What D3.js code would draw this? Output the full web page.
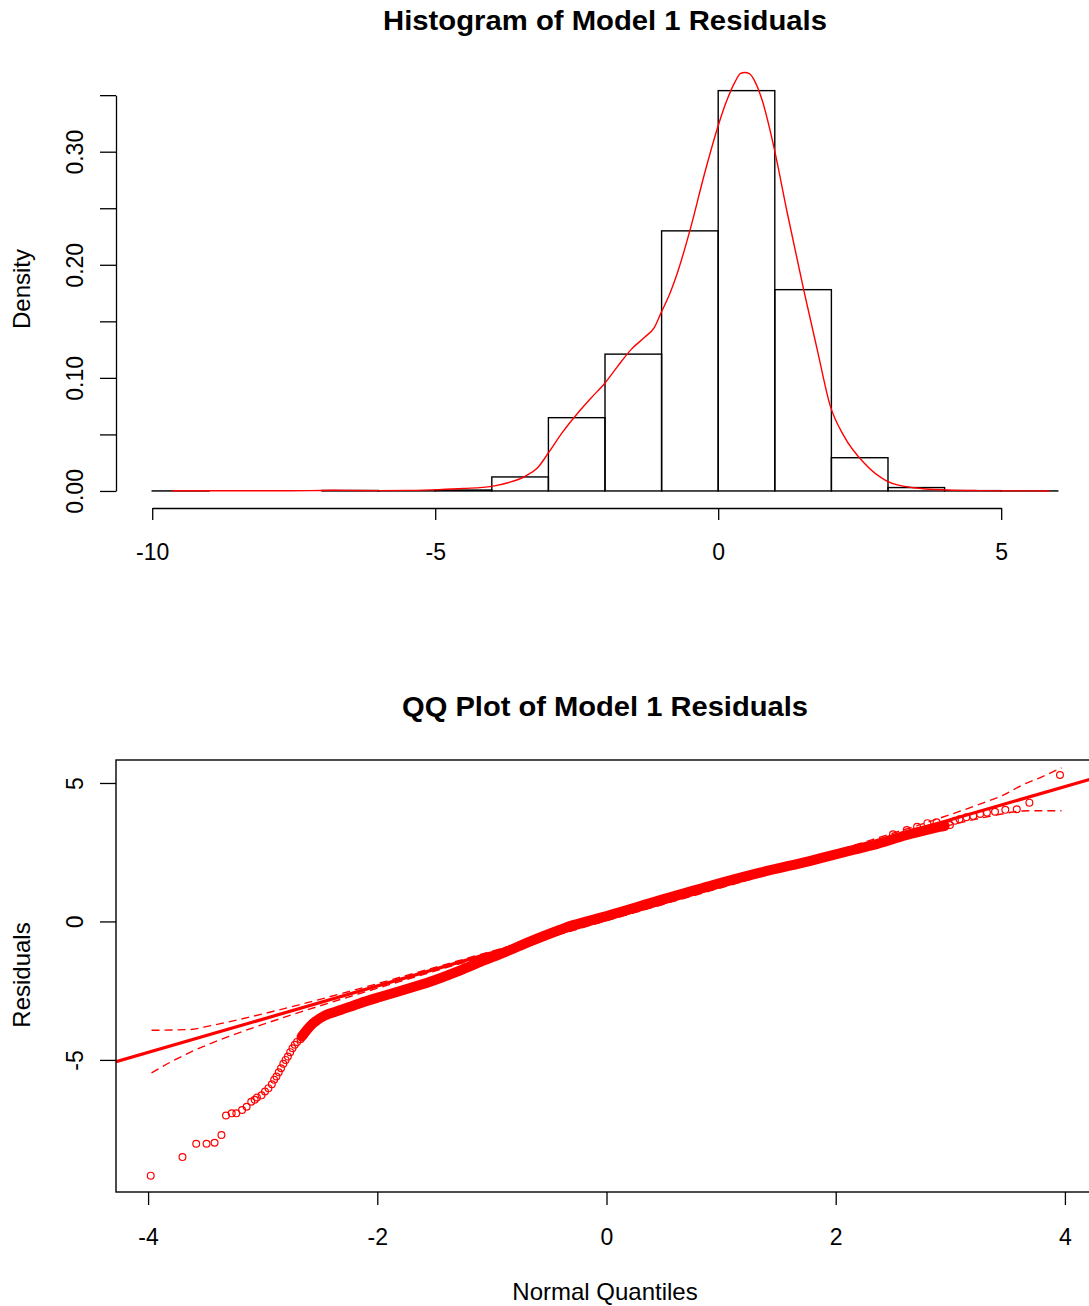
<!DOCTYPE html>
<html>
<head>
<meta charset="utf-8">
<script src="https://cdn.jsdelivr.net/npm/d3@7"></script>
<style>
  body { margin: 0; background: #fff; }
  svg { display: block; }
  text { font-family: "Liberation Sans", Arial, sans-serif; fill: #000; }
</style>
</head>
<body>
<svg id="chart" width="1089" height="1306"></svg>
<script>
// ---------- Histogram of residuals ----------
const histBreaks = [-10, -9, -8, -7, -6, -5, -4, -3, -2, -1, 0, 1, 2, 3, 4, 5, 6];
const histDensity = [0.00005, 0, 0, 0.0004, 0.0001, 0.0008, 0.0124, 0.0648, 0.121, 0.230, 0.354, 0.178, 0.0294, 0.003, 0.0003, 0.00005];

// kernel density estimate drawn over the bars
const densX = [-9.65, -9.0, -8.0, -7.2, -6.8, -6.4, -6.0, -5.5, -4.94, -4.5, -4.0, -3.7, -3.41, -3.2, -3.0,
  -2.75, -2.48, -2.25, -2.0, -1.78, -1.54, -1.3, -1.13, -1.01, -0.85, -0.72, -0.48, -0.25, 0.0, 0.15, 0.3,
  0.39, 0.47, 0.55, 0.65, 0.78, 0.98, 1.22, 1.51, 1.75, 1.98, 2.22, 2.57, 2.98, 3.45, 4.04, 4.6, 5.2, 5.85];
const densY = [0.0002, 0.0002, 0.0002, 0.0003, 0.0006, 0.0004, 0.0003, 0.0005, 0.0012, 0.0022, 0.0041, 0.0075, 0.0130, 0.020, 0.0336,
  0.052, 0.069, 0.082, 0.0955, 0.110, 0.125, 0.136, 0.1445, 0.1575, 0.175, 0.193, 0.234, 0.279, 0.323, 0.345, 0.362,
  0.369, 0.370, 0.369, 0.362, 0.345, 0.305, 0.246, 0.178, 0.125, 0.0752, 0.0487, 0.0251, 0.0088, 0.0029, 0.0009, 0.0003, 0.0001, 0.0];

const histYTicks = [0, 0.05, 0.10, 0.15, 0.20, 0.25, 0.30, 0.35];
const histYLabels = ["0.00", "", "0.10", "", "0.20", "", "0.30", ""];
const histXTicks = [-10, -5, 0, 5];

// ---------- Normal QQ plot of residuals ----------
// isolated points in the lower tail (normal quantile, residual)
const tailLowQ = [-3.977, -3.70, -3.58, -3.49, -3.42, -3.36, -3.32, -3.27, -3.23, -3.18, -3.14, -3.10, -3.07, -3.05,
  -3.01, -2.98, -2.95, -2.92, -2.90, -2.88, -2.86, -2.84, -2.82, -2.80, -2.78, -2.76, -2.74, -2.72, -2.70, -2.67, -2.64, -2.62];
const tailLowR = [-9.18, -8.51, -8.03, -8.03, -7.99, -7.71, -7.01, -6.93, -6.93, -6.81, -6.69, -6.51, -6.44, -6.36,
  -6.28, -6.14, -6.02, -5.88, -5.72, -5.60, -5.45, -5.30, -5.14, -5.00, -4.88, -4.72, -4.58, -4.45, -4.35, -4.25, -4.10, -3.98];
// isolated points in the upper tail
const tailHighQ = [3.957, 3.69, 3.58, 3.48, 3.39, 3.32, 3.26, 3.20, 3.14, 3.08, 3.04, 2.997, 2.94, 2.88, 2.80, 2.71, 2.62, 2.50];
const tailHighR = [5.29, 4.29, 4.05, 4.03, 3.96, 3.93, 3.88, 3.81, 3.76, 3.69, 3.64, 3.48, 3.40, 3.58, 3.55, 3.42, 3.30, 3.15];
// the densely packed body of the sample, traced along its centre
const bodyQ = [-2.66, -2.56, -2.46, -2.32, -2.15, -1.97, -1.75, -1.54, -1.32, -1.10, -0.88, -0.67, -0.41, -0.29,
  0.03, 0.47, 0.90, 1.34, 1.78, 2.15, 2.33, 2.62, 2.85, 2.95];
const bodyR = [-4.16, -3.68, -3.40, -3.20, -2.95, -2.72, -2.45, -2.18, -1.84, -1.46, -1.10, -0.73, -0.31, -0.13,
  0.23, 0.77, 1.28, 1.76, 2.19, 2.58, 2.76, 3.12, 3.36, 3.45];
// reference line through the quartiles
const qqIntercept = 0.07;
const qqSlope = 1.2;
// pointwise confidence envelope
const envQ = [-3.97, -3.8, -3.63, -3.45, -3.3, -3.0, -2.7, -2.3, -1.8, -1.0, 0, 1.0, 1.8, 2.3, 2.7, 3.0, 3.3, 3.45, 3.63, 3.8, 3.97];
const envUpper = [-3.93, -3.92, -3.90, -3.76, -3.63, -3.34, -3.03, -2.59, -2.015, -1.075, 0.115, 1.325, 2.305, 2.93, 3.45, 3.86, 4.30, 4.54, 4.93, 5.22, 5.55];
const envLower = [-5.47, -5.07, -4.72, -4.40, -4.16, -3.72, -3.31, -2.79, -2.165, -1.185, 0.025, 1.215, 2.155, 2.73, 3.17, 3.48, 3.76, 3.88, 3.99, 4.00, 4.00];

const qqXTicks = [-4, -2, 0, 2, 4];
const qqYTicks = [-5, 0, 5];

const RED = "#ff0000";
const svg = d3.select("#chart");
const FS_TICK = 23, FS_LAB = 24, FS_TITLE = 28;
const fmtInt = d => String(d);   // plain hyphen-minus for negatives

// ================= Histogram panel =================
const hx = d3.scaleLinear().domain([-10.64, 6.64]).range([116, 1094]);
const hy = d3.scaleLinear().domain([-0.0148, 0.3848]).range([507.7, 55.8]);

svg.append("text").attr("x", 605).attr("y", 30).attr("text-anchor", "middle")
  .attr("font-weight", "bold").attr("font-size", FS_TITLE)
  .attr("textLength", 444).attr("lengthAdjust", "spacingAndGlyphs")
  .text("Histogram of Model 1 Residuals");

const bins = histDensity.map((d, i) => ({ x0: histBreaks[i], x1: histBreaks[i + 1], d }));
svg.append("g").selectAll("rect").data(bins).join("rect")
  .attr("x", b => hx(b.x0)).attr("width", b => hx(b.x1) - hx(b.x0))
  .attr("y", b => hy(b.d)).attr("height", b => hy(0) - hy(b.d))
  .attr("fill", "none").attr("stroke", "#000").attr("stroke-width", 1.4);

const dens = densX.map((x, i) => [x, densY[i]]);
svg.append("path").datum(dens)
  .attr("d", d3.line().x(d => hx(d[0])).y(d => hy(d[1])).curve(d3.curveMonotoneX))
  .attr("fill", "none").attr("stroke", RED).attr("stroke-width", 1.4);

// y axis (line spans first to last tick)
const hyAxisScale = hy.copy().domain([0, 0.35]).range([hy(0), hy(0.35)]);
const gHY = svg.append("g").attr("transform", "translate(116,0)")
  .call(d3.axisLeft(hyAxisScale).tickValues(histYTicks).tickSize(16).tickSizeOuter(0)
    .tickFormat((d, i) => histYLabels[i]));
gHY.selectAll("path,line").attr("stroke", "#000").attr("stroke-width", 1.3);
gHY.selectAll("text").attr("font-size", FS_TICK).attr("font-family", "Liberation Sans, Arial, sans-serif")
  .attr("text-anchor", "middle").attr("x", null).attr("dy", null)
  .attr("transform", "translate(-41,0) rotate(-90)").attr("dy", "0.35em");

svg.append("text").attr("transform", "translate(22,289) rotate(-90)").attr("text-anchor", "middle")
  .attr("dy", "0.35em").attr("font-size", FS_LAB).text("Density");

// x axis
const hxAxisScale = hx.copy().domain([-10, 5]).range([hx(-10), hx(5)]);
const gHX = svg.append("g").attr("transform", "translate(0,508)")
  .call(d3.axisBottom(hxAxisScale).tickValues(histXTicks).tickSize(12).tickSizeOuter(0).tickPadding(24)
    .tickFormat(fmtInt));
gHX.selectAll("path,line").attr("stroke", "#000").attr("stroke-width", 1.3);
gHX.selectAll("text").attr("font-size", FS_TICK).attr("font-family", "Liberation Sans, Arial, sans-serif");

// ================= QQ panel =================
const qx = d3.scaleLinear().domain([-4.28, 4.28]).range([116, 1097]);
const qy = d3.scaleLinear().domain([-9.77, 5.83]).range([1192, 760]);

svg.append("text").attr("x", 605).attr("y", 716).attr("text-anchor", "middle")
  .attr("font-weight", "bold").attr("font-size", FS_TITLE)
  .attr("textLength", 406).attr("lengthAdjust", "spacingAndGlyphs")
  .text("QQ Plot of Model 1 Residuals");

svg.append("clipPath").attr("id", "qqclip").append("rect")
  .attr("x", 116).attr("y", 760).attr("width", 981).attr("height", 432);
const plot = svg.append("g").attr("clip-path", "url(#qqclip)");

// reference line
const lineEnds = qx.domain();
plot.append("line")
  .attr("x1", qx(lineEnds[0])).attr("y1", qy(qqIntercept + qqSlope * lineEnds[0]))
  .attr("x2", qx(lineEnds[1])).attr("y2", qy(qqIntercept + qqSlope * lineEnds[1]))
  .attr("stroke", RED).attr("stroke-width", 3.2);

// confidence envelope
const envLine = d3.line().x(d => qx(d[0])).y(d => qy(d[1])).curve(d3.curveMonotoneX);
[envUpper, envLower].forEach(arr => {
  plot.append("path").datum(envQ.map((q, i) => [q, arr[i]]))
    .attr("d", envLine).attr("fill", "none").attr("stroke", RED)
    .attr("stroke-width", 1.4).attr("stroke-dasharray", "8,5");
});

// body of the sample
plot.append("path").datum(bodyQ.map((q, i) => [q, bodyR[i]]))
  .attr("d", d3.line().x(d => qx(d[0])).y(d => qy(d[1])).curve(d3.curveCatmullRom))
  .attr("fill", "none").attr("stroke", RED).attr("stroke-width", 10).attr("stroke-linecap", "round");

// tail points
const pts = tailLowQ.map((q, i) => [q, tailLowR[i]]).concat(tailHighQ.map((q, i) => [q, tailHighR[i]]));
plot.append("g").selectAll("circle").data(pts).join("circle")
  .attr("cx", d => qx(d[0])).attr("cy", d => qy(d[1])).attr("r", 3.4)
  .attr("fill", "none").attr("stroke", RED).attr("stroke-width", 1.2);

// frame
svg.append("rect").attr("x", 116).attr("y", 760).attr("width", 981).attr("height", 432)
  .attr("fill", "none").attr("stroke", "#000").attr("stroke-width", 1.4);

// axes
const gQX = svg.append("g").attr("transform", "translate(0,1192)")
  .call(d3.axisBottom(qx).tickValues(qqXTicks).tickSize(13).tickSizeOuter(0).tickPadding(24)
    .tickFormat(fmtInt));
gQX.select(".domain").remove();
gQX.selectAll("line").attr("stroke", "#000").attr("stroke-width", 1.3);
gQX.selectAll("text").attr("font-size", FS_TICK).attr("font-family", "Liberation Sans, Arial, sans-serif");

const gQY = svg.append("g").attr("transform", "translate(116,0)")
  .call(d3.axisLeft(qy).tickValues(qqYTicks).tickSize(16).tickSizeOuter(0).tickFormat(fmtInt));
gQY.select(".domain").remove();
gQY.selectAll("line").attr("stroke", "#000").attr("stroke-width", 1.3);
gQY.selectAll("text").attr("font-size", FS_TICK).attr("font-family", "Liberation Sans, Arial, sans-serif")
  .attr("text-anchor", "middle").attr("x", null).attr("dy", null)
  .attr("transform", "translate(-41,0) rotate(-90)").attr("dy", "0.35em");

svg.append("text").attr("transform", "translate(22,975) rotate(-90)").attr("text-anchor", "middle")
  .attr("dy", "0.35em").attr("font-size", FS_LAB).text("Residuals");
svg.append("text").attr("x", 605).attr("y", 1300).attr("text-anchor", "middle")
  .attr("font-size", FS_LAB).text("Normal Quantiles");
</script>
</body>
</html>
